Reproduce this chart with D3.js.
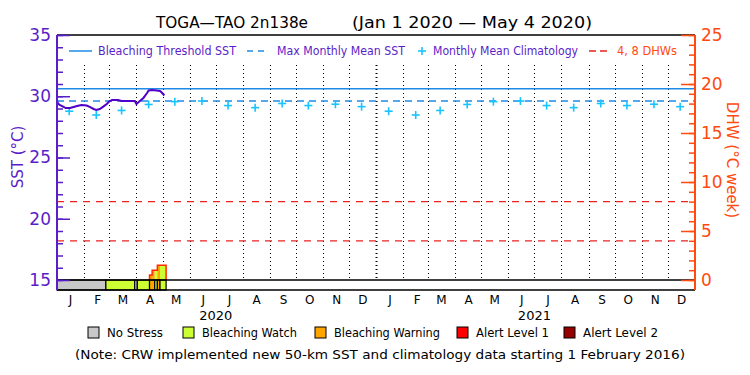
<!DOCTYPE html>
<html>
<head>
<meta charset="utf-8">
<script src="https://cdn.jsdelivr.net/npm/d3@7"></script>
<style>
  body { margin: 0; background: #fff; }
  svg { display: block; font-family: "DejaVu Sans", sans-serif; }
</style>
</head>
<body>
<div id="chart"></div>
<script>
// daily SST trace
const sstDates = ["2020-01-01","2020-01-02","2020-01-04","2020-01-08","2020-01-11","2020-01-16",
  "2020-01-20","2020-01-24","2020-01-29","2020-02-04","2020-02-08","2020-02-12","2020-02-15",
  "2020-02-19","2020-02-23","2020-02-27","2020-03-01","2020-03-04","2020-03-11","2020-03-15",
  "2020-03-22","2020-03-30","2020-04-01","2020-04-05","2020-04-09","2020-04-13","2020-04-15",
  "2020-04-19","2020-04-24","2020-04-28","2020-04-30","2020-05-03"];
const sstValues = [29.64,29.42,29.29,29.16,29.04,29.04,29.12,29.2,29.29,29.24,29.12,28.96,28.88,
  28.96,29.15,29.37,29.59,29.69,29.69,29.61,29.61,29.61,29.37,29.61,29.86,30.24,30.47,
  30.51,30.47,30.43,30.3,30.06];

// monthly mean climatology (Jan..Dec), repeated for both years
const climValues = [28.78,28.47,28.84,29.33,29.56,29.61,29.24,29.07,29.41,29.24,29.35,29.15];
const climYears = [2020, 2021];
const mmm = 29.61;
const bleachThreshold = 30.61;
const dhwLines = [4, 8];

// bleaching stress periods
const stressStarts = ["2020-01-01","2020-02-26","2020-03-30","2020-04-02","2020-04-16","2020-04-22","2020-04-25","2020-04-28"];
const stressEnds   = ["2020-02-26","2020-03-30","2020-04-02","2020-04-16","2020-04-22","2020-04-25","2020-04-28","2020-05-05"];
const stressLevels = [0,1,0,1,2,1,2,1];

// degree heating weeks (step values)
const dhwStarts = ["2020-04-16","2020-04-19","2020-04-25"];
const dhwEnds   = ["2020-04-19","2020-04-25","2020-05-05"];
const dhwValues = [0.5, 1.0, 1.5];

const stressNames = ["No Stress","Bleaching Watch","Bleaching Warning","Alert Level 1","Alert Level 2"];
const stressColors = ["#c8c8c8","#ccff33","#ffa500","#ff0000","#960000"];
const monthLetters = ["J","F","M","A","M","J","J","A","S","O","N","D"];

const W = 750, H = 375;
const pL = 57, pR = 695, pT = 35, base = 280, barBottom = 290;
const purple = "#5a1ec8", orange = "#ff4a10", blue = "#1e8ce6", cyan = "#18c4ff";

const parse = d3.timeParse("%Y-%m-%d");
const svg = d3.select("#chart").append("svg").attr("width", W).attr("height", H);

const x = d3.scaleTime().domain([parse("2020-01-01"), parse("2022-01-01")]).range([pL, pR]);
const y = d3.scaleLinear().domain([15, 35]).range([base, pT]);
const yDhw = d3.scaleLinear().domain([0, 25]).range([base, pT]);

// title
svg.append("text").attr("x", 156).attr("y", 28).attr("font-size", 16)
  .attr("textLength", 152).attr("lengthAdjust", "spacingAndGlyphs").text("TOGA—TAO 2n138e");
svg.append("text").attr("x", 352).attr("y", 28).attr("font-size", 16)
  .attr("textLength", 240).attr("lengthAdjust", "spacingAndGlyphs").text("(Jan 1 2020 — May 4 2020)");

// month gridlines
const monthStarts = d3.timeMonth.range(parse("2020-02-01"), parse("2022-01-01"));
svg.append("g").selectAll("line").data(monthStarts).join("line")
  .attr("x1", d => Math.round(x(d)) + 0.5).attr("x2", d => Math.round(x(d)) + 0.5)
  .attr("y1", 65).attr("y2", base)
  .attr("stroke", "#000")
  .attr("stroke-width", d => d.getMonth() === 0 ? 2 : 1)
  .attr("stroke-dasharray", "1,3");

// threshold and MMM lines
svg.append("line").attr("x1", pL).attr("x2", pR)
  .attr("y1", y(bleachThreshold)).attr("y2", y(bleachThreshold))
  .attr("stroke", blue).attr("stroke-width", 1.5);
svg.append("line").attr("x1", pL).attr("x2", pR)
  .attr("y1", y(mmm)).attr("y2", y(mmm))
  .attr("stroke", blue).attr("stroke-width", 1.5).attr("stroke-dasharray", "7,5");

// DHW reference lines
svg.append("g").selectAll("line").data(dhwLines).join("line")
  .attr("x1", pL).attr("x2", pR)
  .attr("y1", d => yDhw(d)).attr("y2", d => yDhw(d))
  .attr("stroke", "#ee2020").attr("stroke-width", 1.3).attr("stroke-dasharray", "7,6");

// climatology crosses
const clim = [];
climYears.forEach(yr => climValues.forEach((v, i) => clim.push({ date: new Date(yr, i, 15), v })));
const cross = svg.append("g").selectAll("g").data(clim).join("g")
  .attr("transform", d => `translate(${x(d.date)},${y(d.v)})`);
cross.append("line").attr("x1", -4).attr("x2", 4).attr("stroke", cyan).attr("stroke-width", 1.6);
cross.append("line").attr("y1", -4).attr("y2", 4).attr("stroke", cyan).attr("stroke-width", 1.6);

// SST line
const sst = sstDates.map((d, i) => ({ date: parse(d), v: sstValues[i] }));
svg.append("path").datum(sst)
  .attr("fill", "none").attr("stroke", "#5000c8").attr("stroke-width", 2)
  .attr("d", d3.line().x(d => x(d.date)).y(d => y(d.v)));

// stress periods: bar below baseline and DHW fill above it
const stress = stressStarts.map((s, i) => ({ start: parse(s), end: parse(stressEnds[i]), level: stressLevels[i] }));
const dhw = dhwStarts.map((s, i) => ({ start: parse(s), end: parse(dhwEnds[i]), v: dhwValues[i] }));

const dhwFill = [];
stress.forEach(s => dhw.forEach(d => {
  const a = Math.max(s.start, d.start), b = Math.min(s.end, d.end);
  if (a < b) dhwFill.push({ a, b, v: d.v, level: s.level });
}));
svg.append("g").selectAll("rect").data(dhwFill).join("rect")
  .attr("x", d => x(d.a)).attr("width", d => x(d.b) - x(d.a))
  .attr("y", d => yDhw(d.v)).attr("height", d => base - yDhw(d.v))
  .attr("fill", d => stressColors[d.level]);

const dhwPts = [{ date: dhw[0].start, v: 0 }];
dhw.forEach(d => dhwPts.push({ date: d.start, v: d.v }));
dhwPts.push({ date: dhw[dhw.length - 1].end, v: dhw[dhw.length - 1].v });
dhwPts.push({ date: dhw[dhw.length - 1].end, v: 0 });
svg.append("path").datum(dhwPts)
  .attr("fill", "none").attr("stroke", "#ff2a00").attr("stroke-width", 1.5)
  .attr("d", d3.line().x(d => x(d.date)).y(d => yDhw(d.v)).curve(d3.curveStepAfter));

svg.append("g").selectAll("rect").data(stress).join("rect")
  .attr("x", d => x(d.start)).attr("width", d => x(d.end) - x(d.start))
  .attr("y", base).attr("height", barBottom - base)
  .attr("fill", d => stressColors[d.level])
  .attr("stroke", "#000").attr("stroke-width", 1.2);

// frame lines
[pT, base, barBottom].forEach(v => svg.append("line")
  .attr("x1", pL).attr("x2", pR).attr("y1", v).attr("y2", v)
  .attr("stroke", "#000").attr("stroke-width", 1.5));

// left axis (SST)
const gl = svg.append("g").attr("transform", `translate(${pL},0)`).attr("color", purple);
gl.call(d3.axisRight(y).tickValues(d3.range(15, 36)).tickSize(6).tickFormat(""));
gl.select(".domain").remove();
const glMaj = svg.append("g").attr("transform", `translate(${pL},0)`).attr("color", purple);
glMaj.call(d3.axisRight(y).tickValues(d3.range(15, 36, 5)).tickSize(13).tickFormat(""));
glMaj.select(".domain").remove();
const glLab = svg.append("g").attr("transform", `translate(${pL},0)`).attr("color", purple);
glLab.call(d3.axisLeft(y).tickValues(d3.range(15, 36, 5)).tickSize(0).tickPadding(6));
glLab.select(".domain").remove();
glLab.selectAll("text").attr("font-size", 17).attr("font-family", "DejaVu Sans").attr("fill", purple);
svg.append("line").attr("x1", pL).attr("x2", pL).attr("y1", pT).attr("y2", barBottom)
  .attr("stroke", purple).attr("stroke-width", 2);
svg.append("text").attr("transform", "translate(23,157) rotate(-90)")
  .attr("text-anchor", "middle").attr("font-size", 15).attr("fill", purple).text("SST (°C)");

// right axis (DHW)
const gr = svg.append("g").attr("transform", `translate(${pR},0)`).attr("color", orange);
gr.call(d3.axisLeft(yDhw).tickValues(d3.range(0, 26)).tickSize(6).tickFormat(""));
gr.select(".domain").remove();
const grMaj = svg.append("g").attr("transform", `translate(${pR},0)`).attr("color", orange);
grMaj.call(d3.axisLeft(yDhw).tickValues(d3.range(0, 26, 5)).tickSize(14).tickFormat(""));
grMaj.select(".domain").remove();
const grLab = svg.append("g").attr("transform", `translate(${pR},0)`).attr("color", orange);
grLab.call(d3.axisRight(yDhw).tickValues(d3.range(0, 26, 5)).tickSize(0).tickPadding(6));
grLab.select(".domain").remove();
grLab.selectAll("text").attr("font-size", 17).attr("font-family", "DejaVu Sans").attr("fill", orange);
svg.selectAll(".tick line").attr("stroke-width", 1.5);
svg.append("line").attr("x1", pR).attr("x2", pR).attr("y1", pT).attr("y2", barBottom)
  .attr("stroke", orange).attr("stroke-width", 2);
svg.append("text").attr("transform", "translate(727,160) rotate(90)")
  .attr("text-anchor", "middle").attr("font-size", 15).attr("fill", orange).text("DHW (°C week)");

// month labels
const mids = d3.timeMonth.range(parse("2020-01-01"), parse("2022-01-01")).map(d => new Date(d.getFullYear(), d.getMonth(), 16));
const gx = svg.append("g").attr("transform", `translate(0,${barBottom})`);
gx.call(d3.axisBottom(x).tickValues(mids).tickSize(0).tickPadding(5).tickFormat(d => monthLetters[d.getMonth()]));
gx.select(".domain").remove();
gx.selectAll("text").attr("font-size", 12).attr("font-family", "DejaVu Sans").attr("fill", "#000");
svg.append("g").selectAll("text").data(climYears).join("text")
  .attr("x", d => x(new Date(d, 6, 1))).attr("y", 320)
  .attr("text-anchor", "middle").attr("font-size", 13).text(d => d);

// top legend
const leg = svg.append("g").attr("font-size", 11.5);
leg.append("line").attr("x1", 69).attr("x2", 92).attr("y1", 51).attr("y2", 51).attr("stroke", blue).attr("stroke-width", 1.5);
leg.append("text").attr("x", 98).attr("y", 55).attr("fill", purple)
  .attr("textLength", 138).attr("lengthAdjust", "spacingAndGlyphs").text("Bleaching Threshold SST");
leg.append("line").attr("x1", 247).attr("x2", 264).attr("y1", 51).attr("y2", 51).attr("stroke", blue)
  .attr("stroke-width", 1.5).attr("stroke-dasharray", "6,5");
leg.append("text").attr("x", 277).attr("y", 55).attr("fill", purple)
  .attr("textLength", 128).attr("lengthAdjust", "spacingAndGlyphs").text("Max Monthly Mean SST");
leg.append("line").attr("x1", 418).attr("x2", 426).attr("y1", 51).attr("y2", 51).attr("stroke", cyan).attr("stroke-width", 1.6);
leg.append("line").attr("x1", 422).attr("x2", 422).attr("y1", 47).attr("y2", 55).attr("stroke", cyan).attr("stroke-width", 1.6);
leg.append("text").attr("x", 433).attr("y", 55).attr("fill", purple)
  .attr("textLength", 145).attr("lengthAdjust", "spacingAndGlyphs").text("Monthly Mean Climatology");
leg.append("line").attr("x1", 589).attr("x2", 607).attr("y1", 51).attr("y2", 51).attr("stroke", "#ee2020")
  .attr("stroke-width", 1.5).attr("stroke-dasharray", "7,4");
leg.append("text").attr("x", 617).attr("y", 55).attr("fill", orange)
  .attr("textLength", 60).attr("lengthAdjust", "spacingAndGlyphs").text("4, 8 DHWs");

// stress legend
const legX = [88, 183, 315, 457, 564];
const legW = [56, 95, 106, 73, 75];
const sl = svg.append("g").selectAll("g").data(stressNames).join("g")
  .attr("transform", (d, i) => `translate(${legX[i]},327)`);
sl.append("rect").attr("width", 11).attr("height", 11)
  .attr("fill", (d, i) => stressColors[i]).attr("stroke", "#000").attr("stroke-width", 1);
sl.append("text").attr("x", 19).attr("y", 10).attr("font-size", 12)
  .attr("textLength", (d, i) => legW[i]).attr("lengthAdjust", "spacingAndGlyphs").text(d => d);

svg.append("text").attr("x", 75).attr("y", 359).attr("font-size", 12)
  .attr("textLength", 610).attr("lengthAdjust", "spacingAndGlyphs")
  .text("(Note: CRW implemented new 50-km SST and climatology data starting 1 February 2016)");
</script>
</body>
</html>
